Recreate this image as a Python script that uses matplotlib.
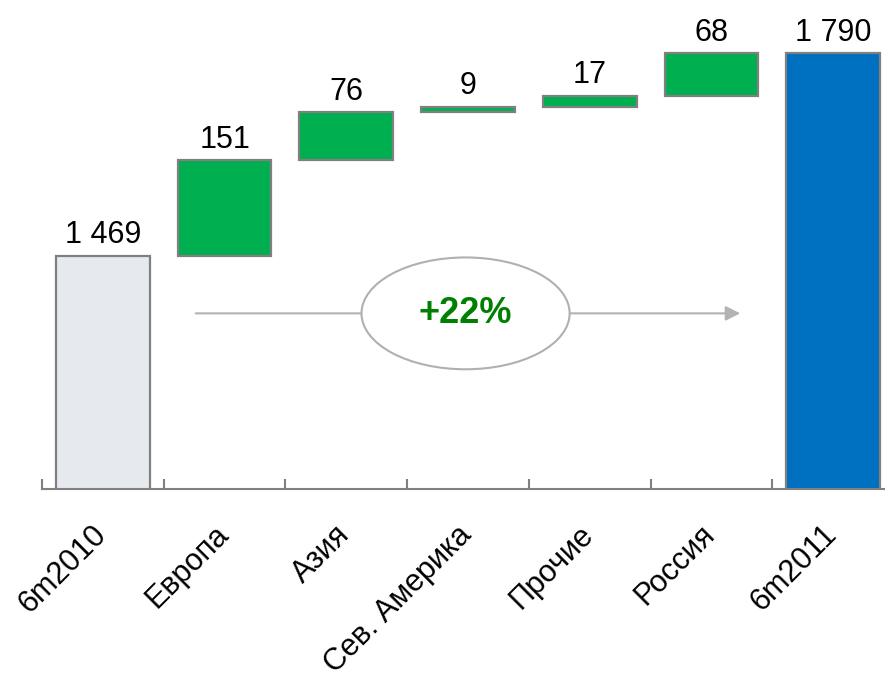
import matplotlib.pyplot as plt
import matplotlib.transforms as mtransforms
from matplotlib.patches import Ellipse

plt.rcParams['font.family'] = ['Liberation Sans', 'DejaVu Sans']

# Chart data
categories = ['6m2010', 'Европа', 'Азия', 'Сев. Америка', 'Прочие', 'Россия', '6m2011']
start_value = 1469
deltas = [151, 76, 9, 17, 68]
end_value = 1790
growth_label = '+22%'

gray_fill = '#E6E9EE'
edge_col = '#808080'
green = '#00B050'
blue = '#0070C0'

fig = plt.figure(figsize=(8.85, 6.79), dpi=100)
# axes spans slightly past the right edge, like the original slide
ax = fig.add_axes([42 / 885, 1 - 489 / 679, 852 / 885, 489 / 679])

x = list(range(len(categories)))
w = 0.77

# first total bar
ax.bar(x[0], start_value, width=w, color=gray_fill, edgecolor=edge_col, linewidth=1.6)
ax.annotate(f'{start_value:,}'.replace(',', ' '), (x[0], start_value),
            xytext=(0, 4), textcoords='offset points', ha='center', va='bottom', fontsize=22)

# floating increments
running = start_value
for i, d in enumerate(deltas):
    ax.bar(x[i + 1], d, bottom=running, width=w, color=green, edgecolor=edge_col, linewidth=1.6)
    running += d
    ax.annotate(str(d), (x[i + 1], running), xytext=(0, 4), textcoords='offset points',
                ha='center', va='bottom', fontsize=22)

# final total bar
ax.bar(x[-1], end_value, width=w, color=blue, edgecolor=edge_col, linewidth=1.6)
ax.annotate(f'{end_value:,}'.replace(',', ' '), (x[-1], end_value),
            xytext=(0, 4), textcoords='offset points', ha='center', va='bottom', fontsize=22)

ax.set_xlim(-0.5, len(categories) - 0.5)
ax.set_ylim(1100, 1874)

# growth arrow and ellipse
ax.annotate('', xy=(5.26, 1378), xytext=(0.74, 1378),
            arrowprops=dict(arrowstyle='-|>', color='#b3b3b3', lw=1.5, mutation_scale=22))
ax.add_patch(Ellipse((2.98, 1378), 1.71, 177, facecolor='white', edgecolor='#b0b0b0', lw=1.5, zorder=3))
ax.text(2.98, 1378, growth_label, ha='center', va='center', fontsize=26,
        fontweight='bold', color='#008000', zorder=4)

# axes styling
for s in ['left', 'right', 'top']:
    ax.spines[s].set_visible(False)
ax.spines['bottom'].set_color(edge_col)
ax.spines['bottom'].set_linewidth(1.5)
ax.set_yticks([])
ax.set_xticks(x)
ax.set_xticklabels(categories, rotation=45, ha='right', fontsize=22)
ax.set_xticks([i - 0.5 for i in range(len(categories) + 1)], minor=True)
ax.tick_params(axis='x', which='major', length=0, pad=22)
ax.tick_params(axis='x', which='minor', direction='in', length=7, width=1.5, color=edge_col)

# nudge rotated labels a little to the right
shift = mtransforms.ScaledTranslation(0.1, 0, fig.dpi_scale_trans)
for lbl in ax.get_xticklabels():
    lbl.set_transform(lbl.get_transform() + shift)

plt.savefig('out.png', dpi=100)
plt.close()
